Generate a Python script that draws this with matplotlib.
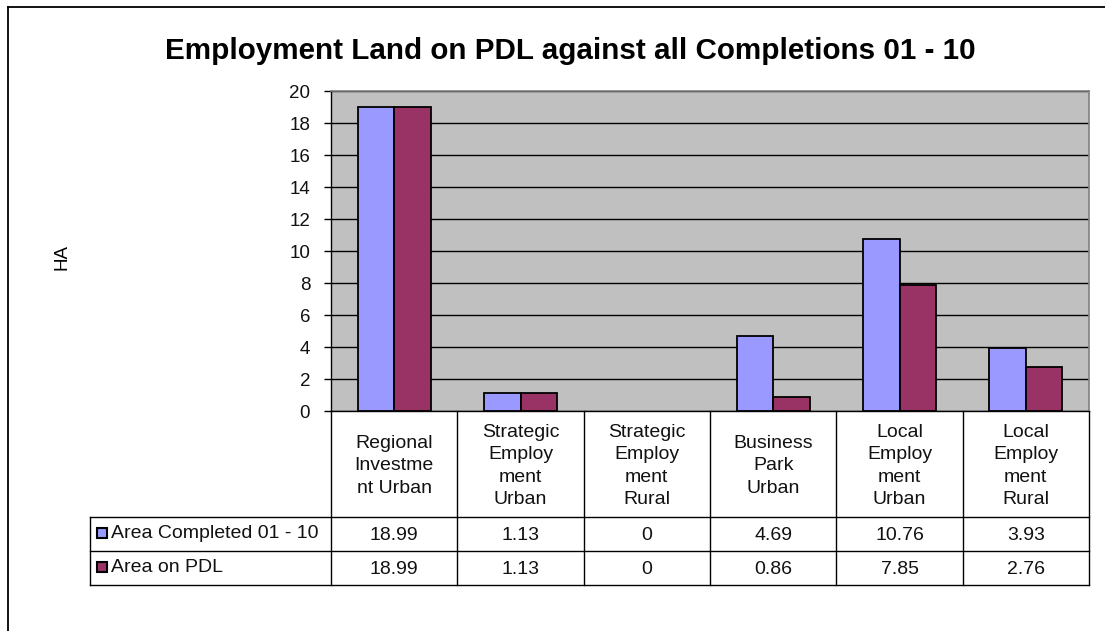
import numpy as np
import matplotlib.pyplot as plt

plt.rcParams['font.family'] = ['Liberation Sans', 'DejaVu Sans']

# chart data
categories = ['Regional\nInvestme\nnt Urban', 'Strategic\nEmploy\nment\nUrban',
              'Strategic\nEmploy\nment\nRural', 'Business\nPark\nUrban',
              'Local\nEmploy\nment\nUrban', 'Local\nEmploy\nment\nRural']
series_names = ['Area Completed 01 - 10', 'Area on PDL']
completed = [18.99, 1.13, 0, 4.69, 10.76, 3.93]
on_pdl = [18.99, 1.13, 0, 0.86, 7.85, 2.76]
completed_labels = ['18.99', '1.13', '0', '4.69', '10.76', '3.93']
pdl_labels = ['18.99', '1.13', '0', '0.86', '7.85', '2.76']
yticks = [0, 2, 4, 6, 8, 10, 12, 14, 16, 18, 20]

colors = ['#9999FF', '#993366']
W, H = 1105, 631
fs = 14

fig = plt.figure(figsize=(W / 100, H / 100), dpi=100)

# outer chart border (top and left visible)
fig.add_artist(plt.Line2D([8 / W, 1], [1 - 7 / H, 1 - 7 / H], color='black', lw=1.3))
fig.add_artist(plt.Line2D([8 / W, 8 / W], [1 - 7 / H, 0], color='black', lw=1.3))

# plot area in pixels
left, right, top, bottom = 331, 1089, 91, 411
ax = fig.add_axes([left / W, 1 - bottom / H, (right - left) / W, (bottom - top) / H])
ax.set_facecolor('#C0C0C0')

x = np.arange(len(categories))
w = 0.29
b1 = ax.bar(x - w / 2, completed, w, color=colors[0], edgecolor='black', linewidth=1.3, zorder=3)
b2 = ax.bar(x + w / 2, on_pdl, w, color=colors[1], edgecolor='black', linewidth=1.3, zorder=3)
for p in list(b1) + list(b2):
    if p.get_height() == 0:
        p.set_linewidth(0)

ax.set_xlim(-0.5, len(categories) - 0.5)
ax.set_ylim(0, 20)
ax.set_yticks(yticks)
ax.set_yticklabels([str(t) for t in yticks], fontsize=13.5, color='#111111')
ax.tick_params(axis='y', length=5, width=1, pad=10)
ax.set_xticks([])
ax.yaxis.grid(True, color='black', linewidth=1.0, zorder=1)
ax.set_axisbelow(True)
for s in ['top', 'right']:
    ax.spines[s].set_color('#808080')
    ax.spines[s].set_linewidth(1.2)
for s in ['left', 'bottom']:
    ax.spines[s].set_color('black')
    ax.spines[s].set_linewidth(1.0)

ax.set_ylabel('HA', fontsize=13.5, labelpad=0)
ax.yaxis.set_label_coords((70 - left) / (right - left), 0.48)

fig.text(0.516, 1 - 51 / H, 'Employment Land on PDL against all Completions 01 - 10',
         ha='center', va='center', fontsize=21.3, fontweight='bold')

# data table below the axis
ph = bottom - top
tr = ax.get_xaxis_transform()
def ay(p):
    return -(p - bottom) / ph

hdr_bot, r1_bot, r2_bot = 517, 551, 585
px_unit = (right - left) / len(categories)
leg_left = -0.5 + (90 - left) / px_unit
line_kw = dict(color='black', lw=1.0, transform=tr, clip_on=False)

for b in np.arange(-0.5, len(categories)):
    ax.plot([b, b], [0, ay(r2_bot)], **line_kw)
ax.plot([leg_left, leg_left], [ay(hdr_bot), ay(r2_bot)], **line_kw)
for yy in [hdr_bot, r1_bot, r2_bot]:
    ax.plot([leg_left, len(categories) - 0.5], [ay(yy), ay(yy)], **line_kw)

for i, c in enumerate(categories):
    ax.text(i, ay(466), c, transform=tr, ha='center', va='center',
            fontsize=fs, linespacing=1.4, color='#111111')
    ax.text(i, ay(535), completed_labels[i], transform=tr, ha='center', va='center',
            fontsize=fs, color='#111111')
    ax.text(i, ay(569), pdl_labels[i], transform=tr, ha='center', va='center',
            fontsize=fs, color='#111111')

for j, (name, yc) in enumerate(zip(series_names, [533, 567])):
    ax.plot([-0.5 + (102 - left) / px_unit], [ay(yc)], marker='s', markersize=7.5,
            mfc=colors[j], mec='black', mew=1.5, transform=tr, clip_on=False)
    ax.text(-0.5 + (111 - left) / px_unit, ay(yc), name, transform=tr, ha='left',
            va='center', fontsize=fs, color='#111111')

fig.savefig('out.png', dpi=100)
